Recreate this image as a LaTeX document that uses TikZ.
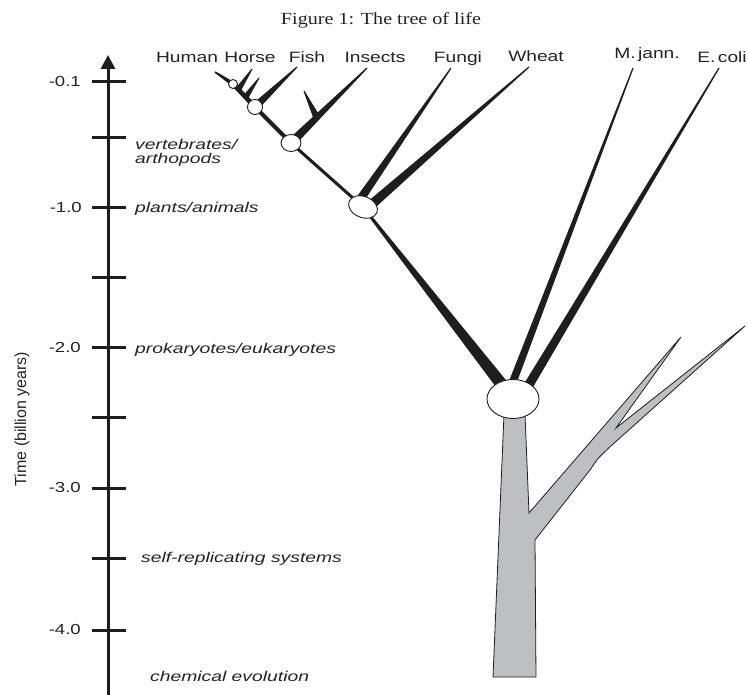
\documentclass[tikz,border=0pt]{standalone}
\usepackage{fontspec}
\setmainfont{Liberation Sans}
\newfontfamily\labfont[FakeStretch=1.28]{Liberation Sans}
\newfontfamily\erafont[FakeStretch=1.36]{Liberation Sans}
\newfontfamily\ttlfont{Liberation Serif}
\usetikzlibrary{arrows.meta,calc,shapes.geometric}
\definecolor{treegray}{RGB}{190,191,195}
\definecolor{inkgray}{RGB}{30,30,30}
\definecolor{txtgray}{RGB}{35,35,35}
\pgfdeclarelayer{bg}
\pgfsetlayers{bg,main}
% tapered branch: tip, base, half-width at tip, half-width at base
\newcommand{\branchwedge}[4]{%
  \fill[inkgray] ($(#1)!#3!90:(#2)$) -- ($(#1)!#3!-90:(#2)$) -- ($(#2)!#4!90:(#1)$) -- ($(#2)!#4!-90:(#1)$) -- cycle;}
\tikzset{
  tick/.style={line width=3pt, inkgray},
  species/.style={font=\labfont\fontsize{15}{17}\selectfont, text=txtgray, anchor=base, inner sep=0pt},
  num/.style={font=\labfont\fontsize{14.5}{17}\selectfont, text=txtgray, anchor=east, inner sep=0pt},
  era/.style={font=\erafont\itshape\fontsize{14.2}{14.5}\selectfont, text=txtgray, anchor=west, inner sep=0pt, align=left},
  junction/.style={draw=inkgray, fill=white, line width=0.9pt, inner sep=0pt},
}
\begin{document}
\begin{tikzpicture}[x=1pt,y=-1pt]
\useasboundingbox (0,0) rectangle (748,695);
% title
\node[font=\ttlfont\fontsize{17}{19}\selectfont, text=txtgray, inner sep=0pt] (title) at (381,20) {\resizebox{200pt}{\height}{Figure 1: The tree of life}};
% axis
\coordinate (axbot) at (108,695);
\coordinate (axtop) at (108,55);
\draw[line width=3pt, inkgray, -{Triangle[length=14pt,width=14pt]}] (axbot) -- (axtop);
\foreach \yy in {82,138,208,278,348,418,488,558,630}{
  \draw[tick] (92,\yy) -- (126,\yy);
}
\node[num] (n01) at (81,82) {-0.1};
\node[num] (n10) at (82,208) {-1.0};
\node[num] (n20) at (81,348) {-2.0};
\node[num] (n30) at (81,488) {-3.0};
\node[num] (n40) at (81,630) {-4.0};
\node[era] (e1) at (135,153) {vertebrates/\\arthopods};
\node[era] (e2) at (135,209) {plants/animals};
\node[era] (e3) at (135,350) {prokaryotes/eukaryotes};
\node[era] (e4) at (141,559) {self-replicating systems};
\node[era] (e5) at (150,676) {chemical evolution};
\node[rotate=90, font=\fontsize{16}{16}\selectfont, text=txtgray] (tlab) at (22,419) {Time (billion years)};
% species labels
\node[species] (human) at (187,63) {Human};
\node[species] (horse) at (250,63) {Horse};
\node[species] (fish) at (307,63) {Fish};
\node[species] (insects) at (375,63) {Insects};
\node[species] (fungi) at (458,63) {Fungi};
\node[species] (wheat) at (536,62) {Wheat};
\node[species] (mjann) at (647,59) {M.\,jann.};
\node[species] (ecoli) at (722,63) {E.\,coli};
% branch tips and joins
\coordinate (thuman) at (215,72);
\coordinate (thorse) at (252,69);
\coordinate (jhorse) at (238,90);
\coordinate (tb2) at (259,78);
\coordinate (jb2) at (245,98);
\coordinate (tfish) at (297,67);
\coordinate (tinsects) at (367,68);
\coordinate (tside) at (304,91);
\coordinate (jside) at (317,118);
\coordinate (tfungi) at (451,68);
\coordinate (bfungi) at (359,201);
\coordinate (twheat) at (529,67);
\coordinate (bwheat) at (371,205);
\coordinate (tmjann) at (633,68);
\coordinate (bmjann) at (509,392);
\coordinate (tecoli) at (719,68);
\coordinate (becoli) at (524,393);
% junction nodes
\node[junction, circle, minimum size=9pt] (c1) at (233,84) {};
\node[junction, circle, minimum size=15pt] (c2) at (255,107) {};
\node[junction, ellipse, minimum width=20pt, minimum height=17pt] (c3) at (291,143) {};
\node[junction, ellipse, minimum width=30pt, minimum height=21pt, rotate=-22] (c4) at (363,207) {};
\node[junction, ellipse, minimum width=52pt, minimum height=39pt] (c5) at (513,399) {};
\begin{pgfonlayer}{bg}
  % gray tree
  \fill[treegray, draw=inkgray, line width=0.8pt, line join=miter]
    (493,677) -- (504,414) -- (525,414) -- (529,513) -- (681,337) -- (616,428)
    -- (745,326) -- (612,445) .. controls (598,458) .. (590,470) -- (535,540) -- (536,677) -- cycle;
  % black branches
  \branchwedge{thuman}{c1.center}{0.8pt}{2.2pt}
  \branchwedge{c1.center}{c2.center}{2.2pt}{2.4pt}
  \branchwedge{thorse}{jhorse}{0.5pt}{3pt}
  \branchwedge{tb2}{jb2}{0.5pt}{3pt}
  \branchwedge{tfish}{c2.center}{0.6pt}{4pt}
  \branchwedge{c2.center}{c3.center}{2pt}{2pt}
  \branchwedge{tinsects}{c3.center}{0.6pt}{4.5pt}
  \branchwedge{tside}{jside}{0.5pt}{3.5pt}
  \branchwedge{c3.center}{c4.center}{1.5pt}{1.5pt}
  \branchwedge{tfungi}{bfungi}{0.6pt}{4.3pt}
  \branchwedge{twheat}{bwheat}{0.6pt}{4.8pt}
  \branchwedge{c4.center}{c5.center}{1.2pt}{6.5pt}
  \branchwedge{tmjann}{bmjann}{0.6pt}{4pt}
  \branchwedge{tecoli}{becoli}{0.6pt}{4.8pt}
\end{pgfonlayer}
\end{tikzpicture}
\end{document}
